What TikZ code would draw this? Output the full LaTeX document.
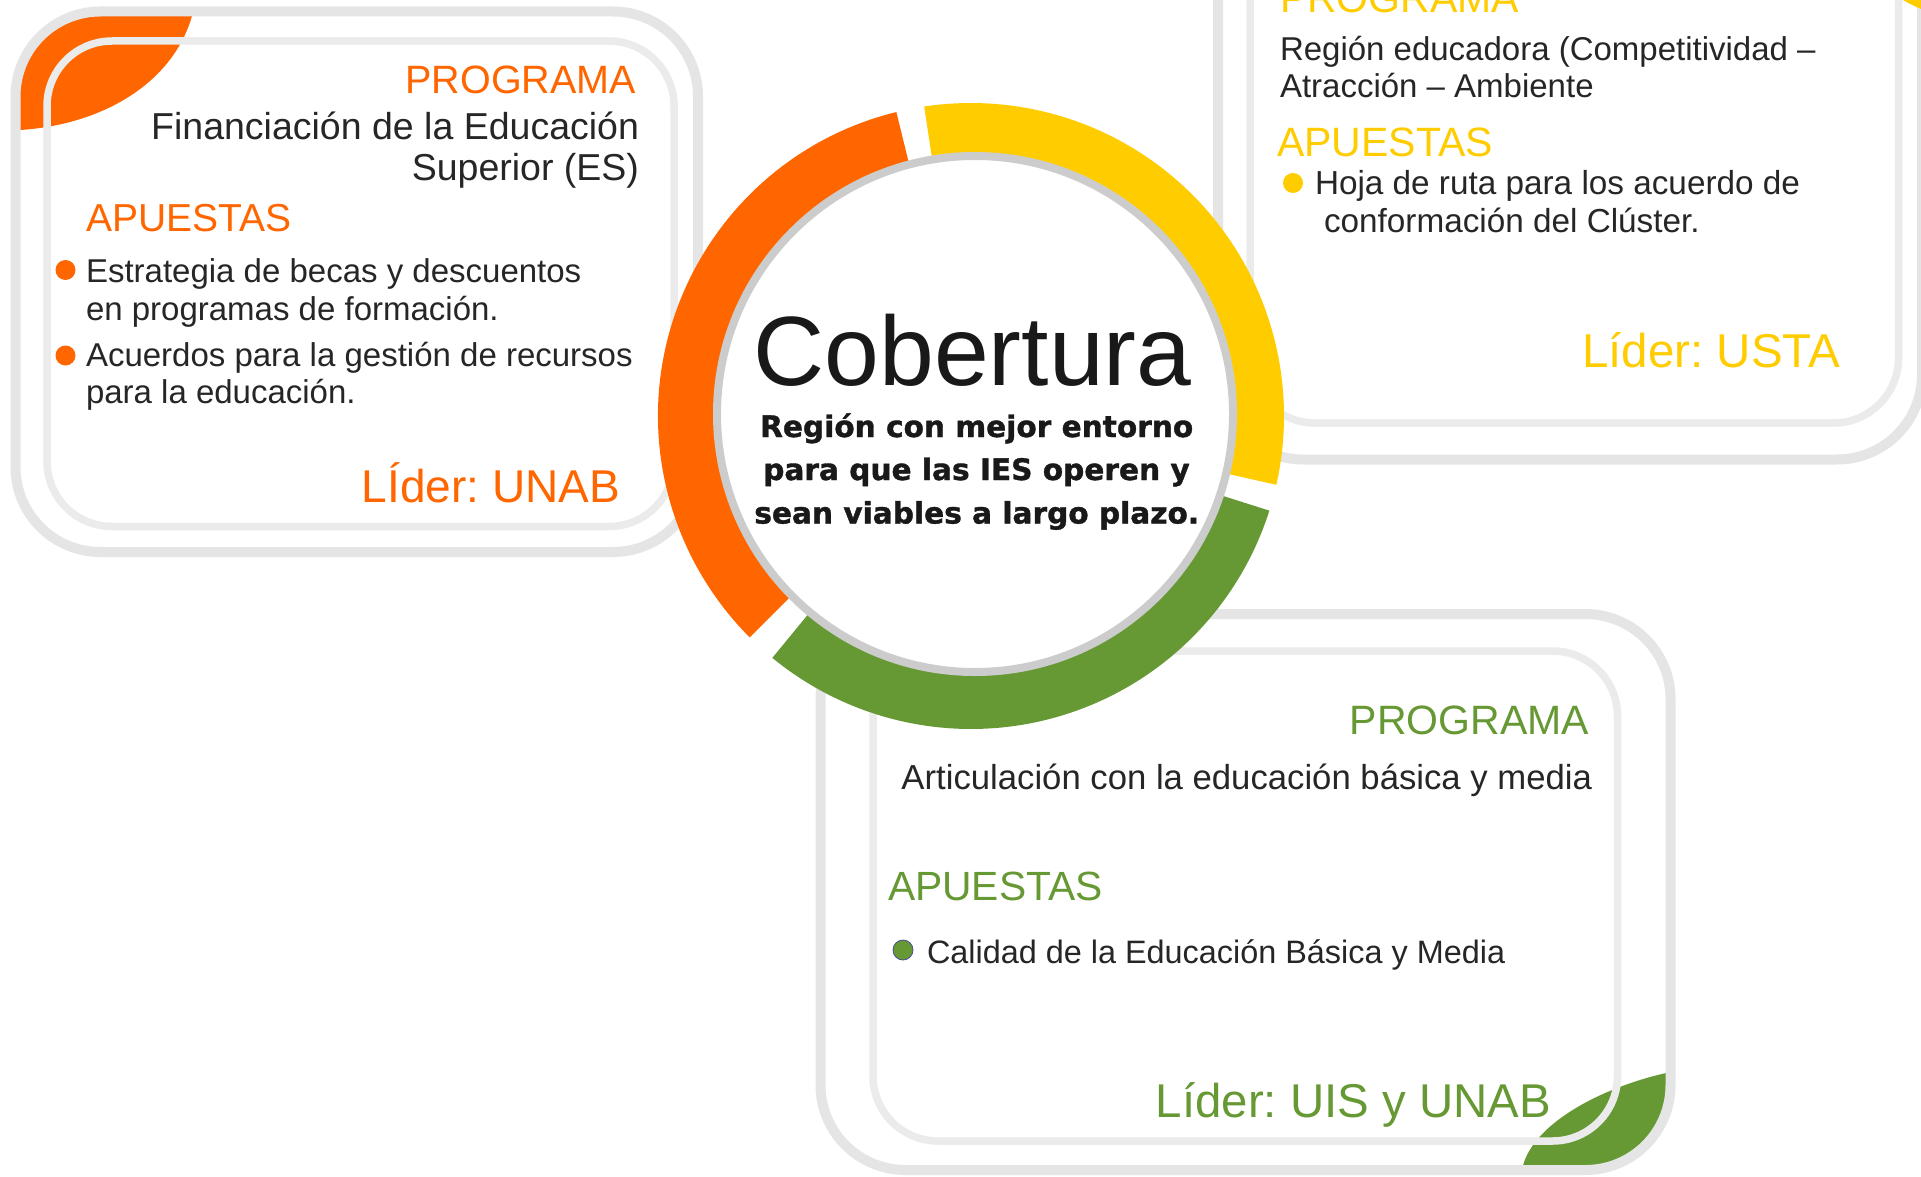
\documentclass[tikz,border=0pt]{standalone}
\usepackage{fontspec}
\setmainfont{Liberation Sans}
\newfontfamily\circfont{DejaVu Sans}[BoldFeatures={FakeBold=1.2}]
\frenchspacing
\definecolor{cOr}{HTML}{FF6600}
\definecolor{cYe}{HTML}{FFCC00}
\definecolor{cGr}{HTML}{669933}
\definecolor{bandA}{HTML}{E5E5E5}
\definecolor{bandB}{HTML}{EBEBEB}
\definecolor{cGray}{HTML}{CCCCCC}
\definecolor{txt}{HTML}{262626}
\newcommand\myfs[1]{\fontsize{#1}{#1}\selectfont}
\tikzset{
  outerband/.style={draw=bandA, line width=10pt, rounded corners=85pt},
  innerband/.style={draw=bandB, line width=7.5pt, rounded corners=65pt},
  lbl/.style={inner sep=0pt, outer sep=0pt, text=txt},
  body/.style={lbl, font=\myfs{33}},
  prog/.style={lbl, font=\myfs{39.5}},
  apu/.style={lbl, font=\myfs{39}},
  lider/.style={lbl, font=\myfs{45}},
  circtext/.style={lbl, text=black!90, font=\circfont\bfseries\myfs{29.6}},
  bul/.style={radius=10}
}
\begin{document}
\begin{tikzpicture}[x=1pt,y=-1pt]
\useasboundingbox (0,0) rectangle (1921,1177);
\clip (0,0) rectangle (1921,1177);
\fill[white] (0,0) rectangle (1921,1177);

% ---------- left box (orange) ----------
\begin{scope}
  \clip[rounded corners=85pt] (15.5,11.5) rectangle (698,552);
  \fill[cOr] (192,0) -- (192,16) .. controls (172,85) and (100,125) .. (20,130) -- (0,130) -- (0,0) -- cycle;
\end{scope}
\draw[outerband] (15.5,11.5) rectangle (698,552);
\draw[innerband] (47,41) rectangle (674,526.5);

% ---------- top-right box (yellow) ----------
\draw[outerband] (1218,-120) rectangle (1922,459.5);
\draw[innerband] (1250,-90) rectangle (1898.5,423);
\fill[cYe] (1903,0) .. controls (1910,4) .. (1921,9) -- (1921,0) -- cycle;

% ---------- bottom box (green) ----------
\begin{scope}
  \clip[rounded corners=85pt] (820.5,614) rectangle (1670.5,1170);
  \fill[cGr] (1666,1073) .. controls (1600,1088) and (1530,1125) .. (1522,1170) -- (1680,1180) -- (1680,1073) -- cycle;
\end{scope}
\draw[outerband] (820.5,614) rectangle (1670.5,1170);
\draw[innerband] (873,651) rectangle (1617.5,1141);

% ---------- ring ----------
\coordinate (C) at (971,416);
\fill[cOr] ([shift={(-103.8:313)}]C) arc[start angle=-103.8, end angle=-225, radius=313]
  -- ([shift={(-225:250)}]C) arc[start angle=-225, end angle=-103.8, radius=250] -- cycle;
\fill[cYe] ([shift={(12.7:313)}]C) arc[start angle=12.7, end angle=-98.6, radius=313]
  -- ([shift={(-98.6:250)}]C) arc[start angle=-98.6, end angle=12.7, radius=250] -- cycle;
\fill[cGr] ([shift={(129.4:313)}]C) arc[start angle=129.4, end angle=17.6, radius=313]
  -- ([shift={(17.6:250)}]C) arc[start angle=17.6, end angle=129.4, radius=250] -- cycle;
\draw[cGray, line width=8pt, fill=white] (975,414) circle[radius=258];

% ---------- centre text ----------
\node[lbl, text=black!90, font=\myfs{98.5}, anchor=base] (cob) at (972.5,385) {Cobertura};
\node[circtext, anchor=base] (c1) at (976.7,437) {Región con mejor entorno};
\node[circtext, anchor=base] (c2) at (976.5,480) {para que las IES operen y};
\node[circtext, anchor=base] (c3) at (976.7,523.5) {sean viables a largo plazo.};

% ---------- left box text ----------
\node[prog, text=cOr, anchor=base east] (lp) at (636,94) {PROGRAMA};
\node[lbl, font=\myfs{37.5}, anchor=base east] (lt1) at (639,140) {Financiación de la Educación};
\node[lbl, font=\myfs{37.5}, anchor=base east] (lt2) at (639,181) {Superior (ES)};
\node[apu, text=cOr, anchor=base west] (la) at (86,231.5) {APUESTAS};
\fill[cOr] (65.5,270) circle[bul];
\node[body, anchor=base west] (lb1a) at (86,282) {Estrategia de becas y descuentos};
\node[body, anchor=base west] (lb1b) at (86,320) {en programas de formación.};
\fill[cOr] (65.5,355.5) circle[bul];
\node[body, anchor=base west] (lb2a) at (86,366) {Acuerdos para la gestión de recursos};
\node[body, anchor=base west] (lb2b) at (86,403) {para la educación.};
\node[lider, font=\myfs{46}, text=cOr, anchor=base east] (ll) at (620,502) {LÍder: UNAB};

% ---------- top-right box text ----------
\node[prog, font=\myfs{41}, text=cYe, anchor=base west] (rp) at (1280,13) {PROGRAMA};
\node[body, anchor=base west] (rt1) at (1280,61) {Región educadora (Competitividad –};
\node[body, anchor=base west] (rt2) at (1280,98) {Atracción – Ambiente};
\node[apu, font=\myfs{41}, text=cYe, anchor=base west] (ra) at (1277,157) {APUESTAS};
\fill[cYe] (1293,183) circle[bul];
\node[body, font=\myfs{33.3}, anchor=base west] (rb1) at (1315,195) {Hoja de ruta para los acuerdo de};
\node[body, font=\myfs{33.3}, anchor=base west] (rb2) at (1324,232) {conformación del Clúster.};
\node[lider, font=\myfs{47.5}, text=cYe, anchor=base east] (rl) at (1840,367) {Líder: USTA};

% ---------- bottom box text ----------
\node[prog, font=\myfs{41}, text=cGr, anchor=base east] (bp) at (1589,734) {PROGRAMA};
\node[lbl, font=\myfs{34.7}, anchor=base east] (bt) at (1592,789) {Articulación con la educación básica y media};
\node[apu, font=\myfs{40.8}, text=cGr, anchor=base west] (ba) at (888,900) {APUESTAS};
\filldraw[fill=cGr, draw=black!60!blue!70, line width=0.8pt] (903,950) circle[bul];
\node[body, font=\myfs{32.4}, anchor=base west] (bb) at (927,963) {Calidad de la Educación Básica y Media};
\node[lider, font=\myfs{47.4}, text=cGr, anchor=base east] (bl) at (1551,1117) {Líder: UIS y UNAB};
\end{tikzpicture}
\end{document}
